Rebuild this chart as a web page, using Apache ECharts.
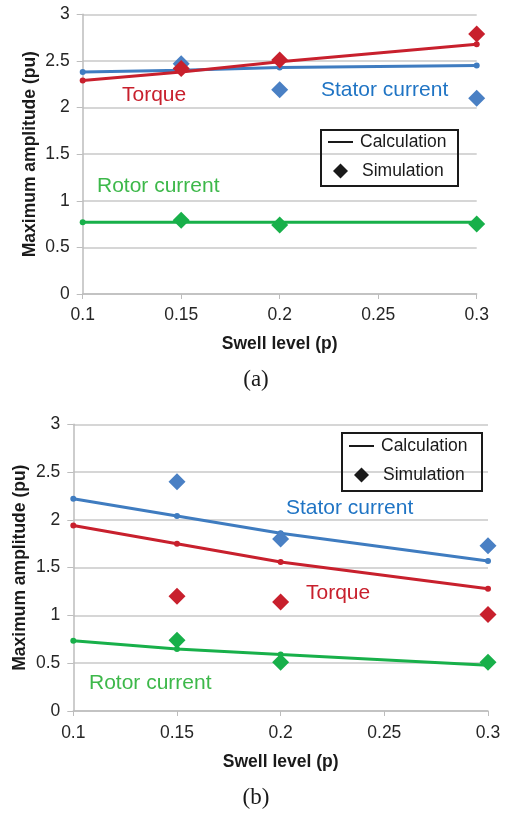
<!DOCTYPE html>
<html><head><meta charset="utf-8">
<script src="https://cdn.jsdelivr.net/npm/echarts@6/dist/echarts.min.js"></script>
<style>html,body{margin:0;padding:0;background:#fff}#c{width:512px;height:814px}</style>
</head><body><div id="c"></div>
<script>
// ---- data ----
const swell = [0.1, 0.15, 0.2, 0.3];
const simSwell = [0.15, 0.2, 0.3];
const xTicks = ['0.1', '0.15', '0.2', '0.25', '0.3'];
// (a)
const statorCalcA = [2.38, 2.40, 2.43, 2.45];
const torqueCalcA = [2.29, 2.38, 2.49, 2.68];
const rotorCalcA  = [0.77, 0.77, 0.77, 0.77];
const statorSimA  = [2.47, 2.19, 2.10];
const torqueSimA  = [2.42, 2.51, 2.79];
const rotorSimA   = [0.79, 0.74, 0.75];
// (b)
const statorCalcB = [2.22, 2.04, 1.86, 1.57];
const torqueCalcB = [1.94, 1.75, 1.56, 1.28];
const rotorCalcB  = [0.735, 0.65, 0.59, 0.48];
const statorSimB  = [2.40, 1.80, 1.73];
const torqueSimB  = [1.20, 1.14, 1.01];
const rotorSimB   = [0.74, 0.51, 0.51];

const BLUE = '#3f7cc0', RED = '#c8202d', GREEN = '#18b04a';
const BLUE_T = '#1f74c4', RED_T = '#c8202d', GREEN_T = '#3db84a';
const FONT = 'Liberation Sans, Arial, sans-serif';

function pairs(xs, ys) { return xs.map((x, i) => [x, ys[i]]); }

function calc(xs, ys, color, gi) {
  return { name: 'Calculation', type: 'line', xAxisIndex: gi, yAxisIndex: gi,
    data: pairs(xs, ys), symbol: 'circle', symbolSize: 6, showSymbol: true,
    lineStyle: { color: color, width: 3 }, itemStyle: { color: color }, z: 3, silent: true };
}
function sim(xs, ys, color, gi) {
  return { name: 'Simulation', type: 'scatter', xAxisIndex: gi, yAxisIndex: gi,
    data: pairs(xs, ys), symbol: 'diamond', symbolSize: 17,
    itemStyle: { color: color, opacity: 1 }, z: 4, silent: true };
}
function xAxis(gi, labelMargin, nameGap) {
  return { type: 'value', gridIndex: gi, min: 0.1, max: 0.3, interval: 0.05,
    name: 'Swell level (p)', nameLocation: 'middle', nameGap: nameGap,
    nameTextStyle: { fontFamily: FONT, fontSize: 17.5, fontWeight: 'bold', color: '#1a1a1a' },
    axisLine: { lineStyle: { color: '#bdbdbd', width: 1.5 } },
    axisTick: { show: true, length: 5, lineStyle: { color: '#bdbdbd' } },
    splitLine: { show: false },
    axisLabel: { margin: labelMargin, fontFamily: FONT, fontSize: 17.5, color: '#262626',
      formatter: v => xTicks.find(t => Math.abs(parseFloat(t) - v) < 1e-9) || '' } };
}
function yAxis(gi, nameGap) {
  return { type: 'value', gridIndex: gi, min: 0, max: 3, interval: 0.5,
    name: 'Maximum amplitude (pu)', nameLocation: 'middle', nameGap: nameGap,
    nameMoveOverlap: false,
    nameTextStyle: { fontFamily: FONT, fontSize: 17.5, fontWeight: 'bold', color: '#1a1a1a' },
    axisLine: { show: true, lineStyle: { color: '#bdbdbd', width: 1.5 } },
    axisTick: { show: true, length: 6, lineStyle: { color: '#bdbdbd' } },
    splitLine: { show: true, lineStyle: { color: '#c8c8c8', width: 1.5 } },
    axisLabel: { margin: 13, fontFamily: FONT, fontSize: 17.5, color: '#262626' } };
}
function txt(x, y, s, color, size, font, align) {
  return { type: 'text', x: x, y: y, z: 10,
    style: { text: s, fill: color, fontSize: size || 21, fontFamily: font || FONT,
      verticalAlign: 'middle', align: align || 'left' } };
}
function legendPair(top1, left1, top2, left2) {
  return [
    { left: left1, top: top1, orient: 'vertical', selectedMode: false, icon: 'rect',
      itemWidth: 25, itemHeight: 2, itemGap: 0, padding: 0, z: 20,
      data: [{ name: 'Calculation', icon: 'rect', itemStyle: { color: '#1a1a1a' } }],
      itemStyle: { color: '#1a1a1a' },
      textStyle: { fontFamily: FONT, fontSize: 17.5, color: '#1a1a1a', padding: [0, 0, 0, 2] } },
    { left: left2, top: top2, orient: 'vertical', selectedMode: false, icon: 'diamond',
      itemWidth: 15, itemHeight: 15, itemGap: 0, padding: 0, z: 20,
      data: [{ name: 'Simulation', icon: 'diamond', itemStyle: { color: '#1a1a1a', opacity: 1 } }],
      itemStyle: { color: '#1a1a1a', opacity: 1 },
      textStyle: { fontFamily: FONT, fontSize: 17.5, color: '#1a1a1a', padding: [0, 0, 0, 9] } }
  ];
}

const chart = echarts.init(document.getElementById('c'), null, { renderer: 'canvas' });
chart.setOption({
  animation: false,
  backgroundColor: '#fff',
  grid: [
    { left: 82.7, right: 35.3, top: 14.3, height: 279.7 },
    { left: 73.3, right: 24, top: 424.3, height: 286.7 }
  ],
  xAxis: [xAxis(0, 12, 41), xAxis(1, 13, 42)],
  yAxis: [yAxis(0, 44), yAxis(1, 44)],
  legend: [].concat(legendPair(133, 328, 162, 333), legendPair(437, 349, 466, 354)),
  series: [
    calc(swell, statorCalcA, BLUE, 0),
    calc(swell, torqueCalcA, RED, 0),
    calc(swell, rotorCalcA, GREEN, 0),
    sim(simSwell, statorSimA, '#4a80c4', 0),
    sim(simSwell, torqueSimA, RED, 0),
    sim(simSwell, rotorSimA, GREEN, 0),
    calc(swell, statorCalcB, BLUE, 1),
    calc(swell, torqueCalcB, RED, 1),
    calc(swell, rotorCalcB, GREEN, 1),
    sim(simSwell, statorSimB, '#4a80c4', 1),
    sim(simSwell, torqueSimB, RED, 1),
    sim(simSwell, rotorSimB, GREEN, 1)
  ],
  graphic: [
    { type: 'rect', shape: { x: 321, y: 130, width: 137, height: 56 }, z: 1,
      style: { fill: 'none', stroke: '#1a1a1a', lineWidth: 2 } },
    { type: 'rect', shape: { x: 342, y: 433, width: 140, height: 58 }, z: 1,
      style: { fill: 'none', stroke: '#1a1a1a', lineWidth: 2 } },
    txt(122, 95, 'Torque', RED_T),
    txt(321, 90, 'Stator current', BLUE_T),
    txt(97, 186, 'Rotor current', GREEN_T),
    txt(286, 508, 'Stator current', BLUE_T),
    txt(306, 593, 'Torque', RED_T),
    txt(89, 683, 'Rotor current', GREEN_T),
    txt(256, 380, '(a)', '#1a1a1a', 23, 'Liberation Serif, Times New Roman, serif', 'center'),
    txt(256, 798, '(b)', '#1a1a1a', 23, 'Liberation Serif, Times New Roman, serif', 'center')
  ]
});
</script></body></html>
